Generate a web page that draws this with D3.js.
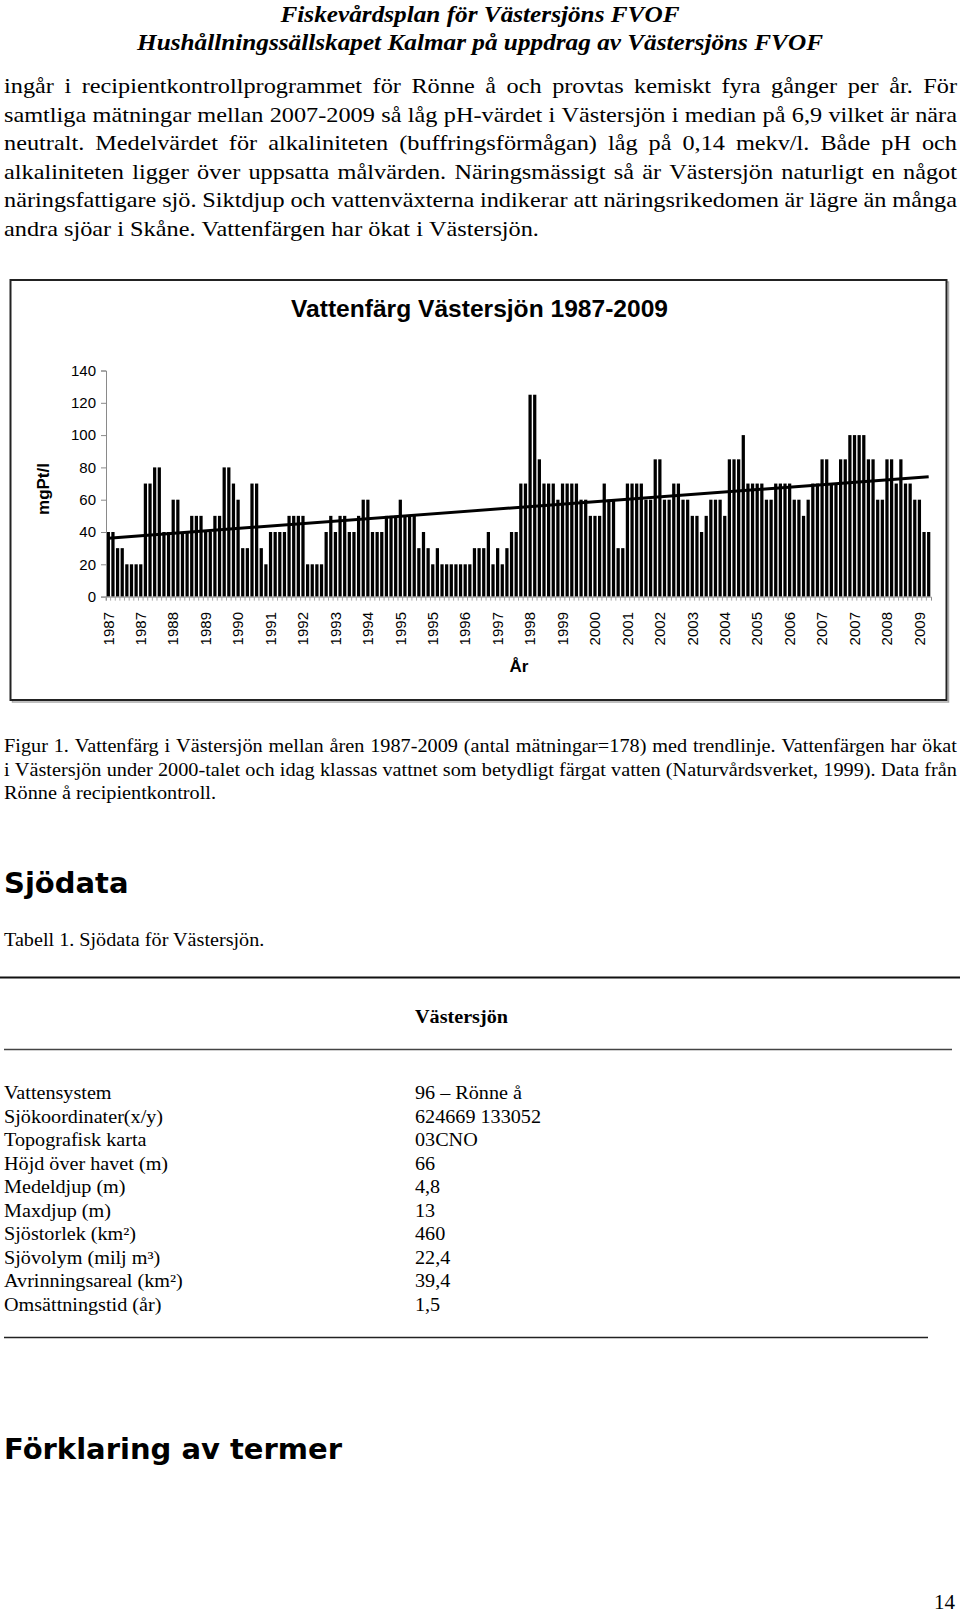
<!DOCTYPE html>
<html>
<head>
<meta charset="utf-8">
<script src="https://cdn.jsdelivr.net/npm/d3@7"></script>
<style>
  body { margin: 0; background: #fff; }
  svg { display: block; }
</style>
</head>
<body>
<div id="app"></div>
<script>
// Vattenfärg (mgPt/l), one value per measurement, 178 in total
const values = [
  40, 40, 30, 30, 20, 20, 20, 20, 70, 70,
  80, 80, 40, 40, 60, 60, 40, 40, 50, 50,
  50, 40, 40, 50, 50, 80, 80, 70, 60, 30,
  30, 70, 70, 30, 20, 40, 40, 40, 40, 50,
  50, 50, 50, 20, 20, 20, 20, 40, 50, 40,
  50, 50, 40, 40, 50, 60, 60, 40, 40, 40,
  50, 50, 50, 60, 50, 50, 50, 30, 40, 30,
  20, 30, 20, 20, 20, 20, 20, 20, 20, 30,
  30, 30, 40, 20, 30, 20, 30, 40, 40, 70,
  70, 125, 125, 85, 70, 70, 70, 60, 70, 70,
  70, 70, 60, 60, 50, 50, 50, 70, 60, 60,
  30, 30, 70, 70, 70, 70, 60, 60, 85, 85,
  60, 60, 70, 70, 60, 60, 50, 50, 40, 50,
  60, 60, 60, 50, 85, 85, 85, 100, 70, 70,
  70, 70, 60, 60, 70, 70, 70, 70, 60, 60,
  50, 60, 70, 70, 85, 85, 70, 70, 85, 85,
  100, 100, 100, 100, 85, 85, 60, 60, 85, 85,
  70, 85, 70, 70, 60, 60, 40, 40,
];

// Excel shows every 7th category label
const labelEvery = 7;
const xTickLabels = [
  '1987', '1987', '1988', '1989', '1990', '1991', '1992', '1993', '1994',
  '1995', '1995', '1996', '1997', '1998', '1999', '2000', '2001', '2002',
  '2003', '2004', '2005', '2006', '2007', '2007', '2008', '2009',
];
const yTicks = [0, 20, 40, 60, 80, 100, 120, 140];

const headerLines = [
  'Fiskevårdsplan för Västersjöns FVOF',
  'Hushållningssällskapet Kalmar på uppdrag av Västersjöns FVOF',
];

const bodyLines = [
  'ingår i recipientkontrollprogrammet för Rönne å och provtas kemiskt fyra gånger per år. För',
  'samtliga mätningar mellan 2007-2009 så låg pH-värdet i Västersjön i median på 6,9 vilket är nära',
  'neutralt. Medelvärdet för alkaliniteten (buffringsförmågan) låg på 0,14 mekv/l. Både pH och',
  'alkaliniteten ligger över uppsatta målvärden. Näringsmässigt så är Västersjön naturligt en något',
  'näringsfattigare sjö. Siktdjup och vattenväxterna indikerar att näringsrikedomen är lägre än många',
  'andra sjöar i Skåne. Vattenfärgen har ökat i Västersjön.',
];

const captionLines = [
  'Figur 1. Vattenfärg i Västersjön mellan åren 1987-2009 (antal mätningar=178) med trendlinje. Vattenfärgen har ökat',
  'i Västersjön under 2000-talet och idag klassas vattnet som betydligt färgat vatten (Naturvårdsverket, 1999). Data från',
  'Rönne å recipientkontroll.',
];

const tableLabels = [
  'Vattensystem', 'Sjökoordinater(x/y)', 'Topografisk karta', 'Höjd över havet (m)',
  'Medeldjup (m)', 'Maxdjup (m)', 'Sjöstorlek (km²)', 'Sjövolym (milj m³)',
  'Avrinningsareal (km²)', 'Omsättningstid (år)',
];
const tableValues = [
  '96 – Rönne å', '624669 133052', '03CNO', '66', '4,8', '13', '460', '22,4', '39,4', '1,5',
];

const serif = '"Liberation Serif", "Times New Roman", serif';
const sans = '"Liberation Sans", Arial, sans-serif';
const heavy = '"DejaVu Sans", Verdana, sans-serif';

// the original serif (Garamond) runs a bit wider than Times
const serifStretch = 1.09;

const svg = d3.select('#app').append('svg')
  .attr('width', 960)
  .attr('height', 1613);

const probe = svg.append('text').attr('x', -999).attr('y', -999);
function measure(str, font) {
  probe.style('font', font).text(str);
  return probe.node().getComputedTextLength();
}

// a piece of text widened by sx
function stretched(g, str, x, y, font, sx) {
  return g.append('text')
    .attr('x', x)
    .attr('y', y)
    .attr('textLength', measure(str, font) * sx)
    .attr('lengthAdjust', 'spacingAndGlyphs')
    .style('font', font)
    .text(str);
}

// one line laid out word by word; justified lines fill x0..x1
function writeLine(g, text, x0, x1, y, font, sx, justify) {
  const words = text.split(' ');
  const widths = words.map(w => measure(w, font) * sx);
  const space = (measure('a a', font) - measure('aa', font)) * sx;
  const gap = justify && words.length > 1
    ? (x1 - x0 - d3.sum(widths)) / (words.length - 1)
    : space;
  let x = x0;
  words.forEach((w, i) => {
    stretched(g, w, x, y, font, sx);
    x += widths[i] + gap;
  });
}

// Header
svg.append('g').selectAll('text')
  .data(headerLines)
  .join('text')
  .attr('x', 480)
  .attr('y', (d, i) => 22 + i * 28)
  .attr('text-anchor', 'middle')
  .attr('textLength', (d, i) => (i === 0 ? 399 : 686))
  .attr('lengthAdjust', 'spacingAndGlyphs')
  .style('font', `italic bold 23px ${serif}`)
  .text(d => d);

// Body text, stretched so the last (ragged) line ends where it does in print
const bodyFont = `21.5px ${serif}`;
const bodySx = 534 / measure(bodyLines[bodyLines.length - 1], bodyFont);
const body = svg.append('g');
bodyLines.forEach((line, i) => {
  writeLine(body, line, 4, 957, 93 + i * 28.5, bodyFont, bodySx, i < bodyLines.length - 1);
});

// ---- Chart ----
const frame = { x: 10.5, y: 280, w: 936, h: 420 };
const plot = { left: 106, right: 931, top: 370.5, bottom: 596.6 };

svg.append('rect')
  .attr('x', frame.x + 2).attr('y', frame.y + 2)
  .attr('width', frame.w).attr('height', frame.h)
  .attr('fill', 'none').attr('stroke', '#aaa').attr('stroke-width', 1.5);
svg.append('rect')
  .attr('x', frame.x).attr('y', frame.y)
  .attr('width', frame.w).attr('height', frame.h)
  .attr('fill', '#fff').attr('stroke', '#222').attr('stroke-width', 2);

const chart = svg.append('g');

chart.append('text')
  .attr('x', 479.5)
  .attr('y', 317)
  .attr('text-anchor', 'middle')
  .attr('textLength', 377)
  .attr('lengthAdjust', 'spacingAndGlyphs')
  .style('font', `bold 24px ${sans}`)
  .text('Vattenfärg Västersjön 1987-2009');

const xScale = d3.scaleBand()
  .domain(d3.range(values.length))
  .range([plot.left, plot.right])
  .paddingInner(0.3)
  .paddingOuter(0.15);

const yScale = d3.scaleLinear()
  .domain([0, 140])
  .range([plot.bottom, plot.top]);

// bars
chart.append('g')
  .selectAll('rect')
  .data(values)
  .join('rect')
  .attr('x', (d, i) => xScale(i))
  .attr('y', d => yScale(d))
  .attr('width', xScale.bandwidth())
  .attr('height', d => plot.bottom - yScale(d))
  .attr('fill', '#000');

// y axis
const yAxisGroup = chart.append('g')
  .attr('transform', `translate(${plot.left},0)`)
  .call(d3.axisLeft(yScale).tickValues(yTicks).tickSize(5).tickPadding(5));
yAxisGroup.select('.domain').attr('stroke', '#8a8a8a');
yAxisGroup.selectAll('.tick line').attr('stroke', '#8a8a8a');
yAxisGroup.selectAll('.tick text')
  .attr('fill', '#000')
  .style('font', `15px ${sans}`);

// x axis: small marks between categories, labels every 7th
const xAxisGroup = chart.append('g')
  .attr('transform', `translate(0,${plot.bottom})`)
  .call(d3.axisBottom(xScale).tickSize(4).tickFormat(''));
xAxisGroup.select('.domain').attr('stroke', '#8a8a8a');
xAxisGroup.selectAll('.tick line')
  .attr('stroke', '#a0a0a0')
  .attr('transform', `translate(${-xScale.step() / 2},0)`);

chart.append('g')
  .selectAll('text')
  .data(xTickLabels)
  .join('text')
  .attr('transform', (d, k) => {
    const cx = xScale(k * labelEvery) + xScale.bandwidth() / 2;
    return `translate(${cx},612) rotate(-90)`;
  })
  .attr('text-anchor', 'end')
  .attr('dy', '0.35em')
  .style('font', `15px ${sans}`)
  .text(d => d);

// trendline (least squares on measurement number)
const n = values.length;
const xs = d3.range(1, n + 1);
const mx = d3.mean(xs);
const my = d3.mean(values);
const slope = d3.sum(xs, (v, i) => (v - mx) * (values[i] - my)) / d3.sum(xs, v => (v - mx) ** 2);
const intercept = my - slope * mx;
const trend = [0, n - 1].map(i => ({ i, v: intercept + slope * (i + 1) }));

chart.append('path')
  .attr('d', d3.line()
    .x(d => xScale(d.i) + xScale.bandwidth() / 2)
    .y(d => yScale(d.v))(trend))
  .attr('fill', 'none')
  .attr('stroke', '#000')
  .attr('stroke-width', 3);

// axis titles
chart.append('text')
  .attr('transform', 'translate(43,489) rotate(-90)')
  .attr('text-anchor', 'middle')
  .attr('dy', '0.35em')
  .style('font', `bold 17px ${sans}`)
  .text('mgPt/l');

chart.append('text')
  .attr('x', 519)
  .attr('y', 672)
  .attr('text-anchor', 'middle')
  .style('font', `bold 17px ${sans}`)
  .text('År');

// Caption
const captionFont = `18.5px ${serif}`;
const captionSx = 212 / measure(captionLines[captionLines.length - 1], captionFont);
const caption = svg.append('g');
captionLines.forEach((line, i) => {
  writeLine(caption, line, 4, 957, 752 + i * 23.5, captionFont, captionSx, i < captionLines.length - 1);
});

// Sjödata
svg.append('text')
  .attr('x', 4).attr('y', 893)
  .style('font', `bold 29px ${heavy}`)
  .text('Sjödata');

const tableFont = `18.5px ${serif}`;
stretched(svg, 'Tabell 1. Sjödata för Västersjön.', 4, 945.5, tableFont, serifStretch);

// table
const table = svg.append('g');
table.append('line')
  .attr('x1', 0).attr('x2', 960).attr('y1', 977.5).attr('y2', 977.5)
  .attr('stroke', '#111').attr('stroke-width', 2);
stretched(table, 'Västersjön', 415, 1023, `bold 18.5px ${serif}`, serifStretch);
table.append('line')
  .attr('x1', 4).attr('x2', 952).attr('y1', 1049.5).attr('y2', 1049.5)
  .attr('stroke', '#444').attr('stroke-width', 1.5);

const rowY = i => 1099 + i * 23.55;
tableLabels.forEach((d, i) => stretched(table, d, 4, rowY(i), tableFont, serifStretch));
tableValues.forEach((d, i) => stretched(table, d, 415, rowY(i), tableFont, serifStretch));

table.append('line')
  .attr('x1', 4).attr('x2', 928).attr('y1', 1337.5).attr('y2', 1337.5)
  .attr('stroke', '#222').attr('stroke-width', 1.5);

svg.append('text')
  .attr('x', 4).attr('y', 1459)
  .style('font', `bold 29px ${heavy}`)
  .text('Förklaring av termer');

svg.append('text')
  .attr('x', 955).attr('y', 1609)
  .attr('text-anchor', 'end')
  .style('font', `21px ${serif}`)
  .text('14');

probe.remove();
</script>
</body>
</html>
